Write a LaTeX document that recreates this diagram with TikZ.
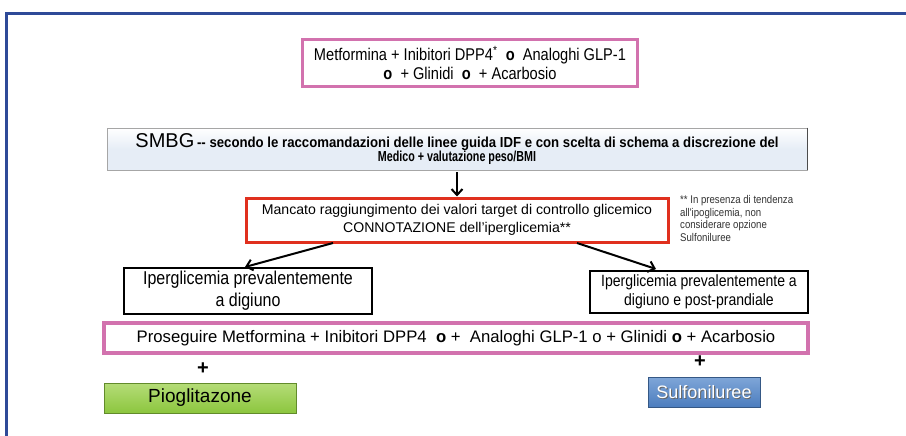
\documentclass[tikz,border=0pt]{standalone}
\usepackage{fontspec}
\setmainfont{Liberation Sans}
\newfontfamily\narrow[FakeStretch=0.86]{Liberation Sans}
\newfontfamily\condA[FakeStretch=0.91]{Liberation Sans}
\newfontfamily\condB[FakeStretch=0.74]{Liberation Sans}
\usetikzlibrary{arrows.meta,shadows}
\definecolor{framec}{HTML}{2F4A98}
\definecolor{pinkc}{HTML}{D272AE}
\definecolor{redc}{HTML}{E0301E}
\definecolor{smbgc}{HTML}{E6EDF6}
\definecolor{greenc}{HTML}{8CC63E}
\definecolor{greenl}{HTML}{B5DC78}
\definecolor{bluec}{HTML}{4C7DBE}
\definecolor{bluel}{HTML}{7FA6D8}
\tikzset{
  pinkbox/.style={draw=pinkc, line width=3.5pt, fill=white, inner sep=0pt, align=center},
  redbox/.style={draw=redc, line width=3pt, fill=white, inner sep=0pt, align=center},
  plainbox/.style={draw=black, line width=1.1pt, fill=white, inner sep=0pt, align=center},
  smbgbox/.style={draw=black!35, line width=0.8pt, top color=white, bottom color=smbgc, middle color=smbgc,
    inner sep=0pt, align=center},
  greenbox/.style={draw=greenc!70!black, line width=0.8pt, top color=greenl, bottom color=greenc, inner sep=0pt},
  bluebox/.style={draw=bluec!70!black, line width=0.8pt, top color=bluel, bottom color=bluec, inner sep=0pt},
  arr/.style={line width=2pt, -{Straight Barb[length=6pt,width=11pt,line width=2pt]}},
  plus/.style={font=\fontsize{20}{20}\selectfont\bfseries, inner sep=0pt},
}
\begin{document}
\begin{tikzpicture}[x=1pt,y=-1pt]
\useasboundingbox[fill=white] (0,0) rectangle (906,436);
% frame
\draw[framec, line width=2.6pt] (6.5,436) -- (6.5,13.5) -- (906,13.5);

\node[pinkbox, minimum width=335pt, minimum height=47pt, font=\narrow\fontsize{17}{18.5}\selectfont] (b1) at (470,63)
  {Metformina + Inibitori DPP4\textsuperscript{*}~ \textbf{o}~ Analoghi GLP-1\\ \textbf{o}~ + Glinidi~ \textbf{o}~ + Acarbosio};

\node[smbgbox, minimum width=700pt, minimum height=42pt] (smbg) at (457,149)
  {{\fontsize{20}{20}\selectfont SMBG} {\condA\bfseries\fontsize{14.5}{18}\selectfont -- secondo le raccomandazioni delle linee guida IDF e con scelta di schema a discrezione del}\\[-1pt]
   {\condB\bfseries\fontsize{14.5}{18}\selectfont Medico + valutazione peso/BMI}};
\draw[black!70, line width=1.6pt] (smbg.north east) -- (smbg.south east);

\node[redbox, minimum width=422pt, minimum height=44pt, font=\fontsize{14.1}{17.5}\selectfont] (red) at (457,220)
  {Mancato raggiungimento dei valori target di controllo glicemico\\ CONNOTAZIONE dell'iperglicemia**};

\node[anchor=north west, inner sep=0pt, align=left, text=black!80, font=\narrow\fontsize{11.2}{12.8}\selectfont] (note) at (680,195)
  {** In presenza di tendenza\\ all'ipoglicemia, non\\ considerare opzione\\ Sulfoniluree};

\draw[arr] (smbg.south -| red.north) ++(0,2) -- (red.north);

\node[plainbox, minimum width=248pt, minimum height=46pt, font=\narrow\fontsize{18.6}{22}\selectfont] (left) at (248,291)
  {Iperglicemia prevalentemente\\ a digiuno};
\node[plainbox, minimum width=218pt, minimum height=42pt, font=\narrow\fontsize{16.3}{19}\selectfont] (right) at (699,292)
  {Iperglicemia prevalentemente a\\ digiuno e post-prandiale};

\coordinate (la) at (333,243);
\coordinate (lb) at (245,267);
\coordinate (ra) at (577,243);
\coordinate (rb) at (656,269);
\draw[arr] (la) -- (lb);
\draw[arr] (ra) -- (rb);

\node[pinkbox, minimum width=704pt, minimum height=30pt, font=\fontsize{16.7}{18}\selectfont] (pros) at (456,338)
  {Proseguire Metformina + Inibitori DPP4~ \textbf{o} +~ Analoghi GLP-1 o + Glinidi \textbf{o} + Acarbosio};

\node[plus] (p1) at (203,369) {+};
\node[plus] (p2) at (700,362) {+};

\node[greenbox, minimum width=192pt, minimum height=30pt, font=\fontsize{19}{20}\selectfont] (pio) at (200,398) {Pioglitazone};
\node[bluebox, minimum width=112pt, minimum height=30pt] (sulf) at (704,392) {};
\node[text=black!60, font=\fontsize{18}{20}\selectfont, inner sep=0pt] at ([shift={(0.8,0.8)}]sulf.center) {Sulfoniluree};
\node[text=white, font=\fontsize{18}{20}\selectfont, inner sep=0pt] at (sulf.center) {Sulfoniluree};
\end{tikzpicture}
\end{document}
